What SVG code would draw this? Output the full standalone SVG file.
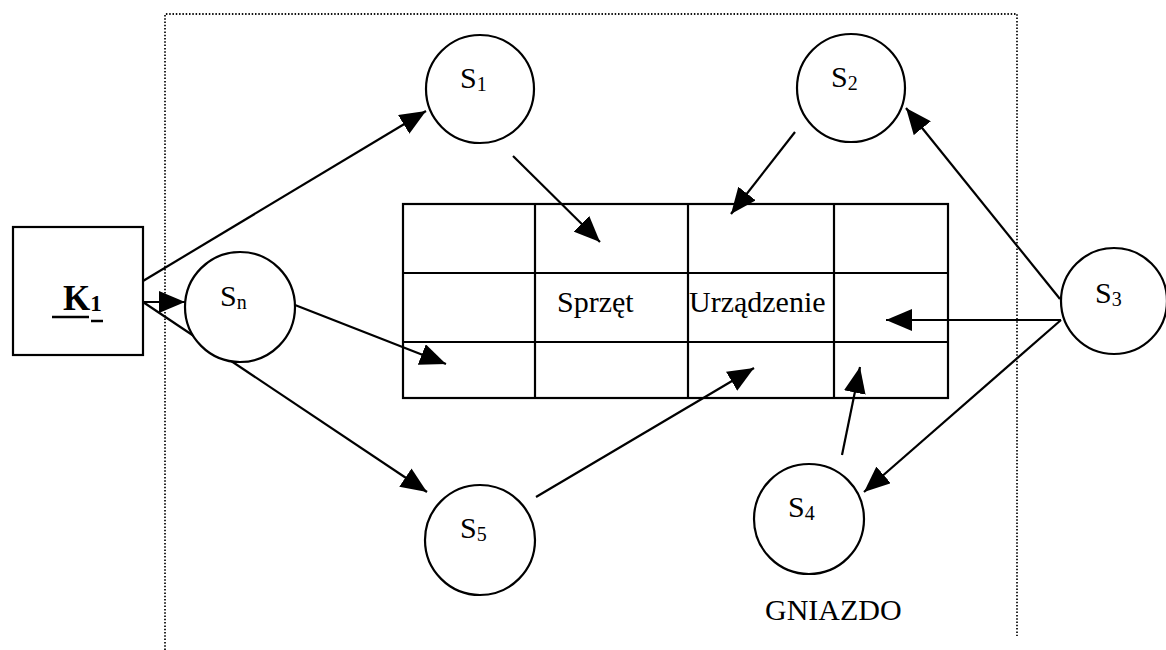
<svg xmlns="http://www.w3.org/2000/svg" width="1166" height="650" viewBox="0 0 1166 650">
  <style>
    .node { fill: #fff; stroke: #000; stroke-width: 2.2; }
    .grid { fill: none; stroke: #000; stroke-width: 2.2; }
    .edge { fill: none; stroke: #000; stroke-width: 2.2; marker-end: url(#arrow); }
    .plain { fill: none; stroke: #000; stroke-width: 2.5; }
    .dotted { fill: none; stroke: #111; stroke-width: 1.8; stroke-dasharray: 1.5 1.8; }
    .lbl { font-family: "Liberation Serif", "Times New Roman", serif; font-size: 30px; fill: #000; }
    .sub { font-size: 20px; }
    .key { font-weight: bold; font-size: 35px; }
    .keysub { font-size: 23px; }
  </style>
  <defs>
    <marker id="arrow" markerUnits="userSpaceOnUse" markerWidth="26" markerHeight="22" refX="26" refY="11" orient="auto">
      <path d="M0,0 L26,11 L0,22 z" fill="#000"/>
    </marker>
  </defs>

  <rect width="1166" height="650" fill="#fff"/>

  <!-- nest boundary -->
  <g id="boundary">
    <polyline class="dotted" points="165,650 165,14 1017,14 1017,636"/>
    <text class="lbl" x="765" y="620">GNIAZDO</text>
  </g>

  <!-- connectors -->
  <g id="connectors">
    <line class="edge" x1="143" y1="281" x2="426" y2="111"/>
    <line class="edge" x1="143" y1="302" x2="185" y2="302"/>
    <line class="edge" x1="143" y1="302" x2="427" y2="492"/>
    <line class="edge" x1="513" y1="156" x2="600" y2="242"/>
    <line class="edge" x1="795" y1="132" x2="731" y2="214"/>
    <line class="edge" x1="295" y1="305" x2="446" y2="364"/>
    <line class="edge" x1="536" y1="497" x2="754" y2="368"/>
    <line class="edge" x1="842" y1="455" x2="860" y2="367"/>
    <line class="edge" x1="1060" y1="299" x2="906" y2="108"/>
    <line class="edge" x1="1061" y1="320" x2="886" y2="320"/>
    <line class="edge" x1="1061" y1="320" x2="864" y2="492"/>
  </g>

  <!-- K1 -->
  <g id="K1">
    <rect class="node" x="13" y="227" width="130" height="128"/>
    <text class="lbl key" x="63" y="310">K<tspan class="keysub" dy="1">1</tspan></text>
    <line class="plain" x1="52" y1="317" x2="89" y2="317"/>
    <line class="plain" x1="91" y1="321" x2="103" y2="321"/>
  </g>

  <!-- equipment table -->
  <g id="table">
    <rect class="grid" x="403" y="204" width="545" height="194"/>
    <line class="grid" x1="403" y1="273" x2="948" y2="273"/>
    <line class="grid" x1="403" y1="342" x2="948" y2="342"/>
    <line class="grid" x1="535" y1="204" x2="535" y2="398"/>
    <line class="grid" x1="688" y1="204" x2="688" y2="398"/>
    <line class="grid" x1="834" y1="204" x2="834" y2="398"/>
    <text class="lbl" x="557" y="312">Sprzęt</text>
    <text class="lbl" x="689" y="312">Urządzenie</text>
  </g>

  <!-- stations -->
  <g id="S1">
    <circle class="node" cx="480" cy="89" r="54"/>
    <text class="lbl" x="460" y="88">S<tspan class="sub" dy="3">1</tspan></text>
  </g>
  <g id="S2">
    <circle class="node" cx="851" cy="88" r="54"/>
    <text class="lbl" x="831" y="87">S<tspan class="sub" dy="3">2</tspan></text>
  </g>
  <g id="S3">
    <circle class="node" cx="1114" cy="301" r="53"/>
    <text class="lbl" x="1095" y="303">S<tspan class="sub" dy="3">3</tspan></text>
  </g>
  <g id="S4">
    <circle class="node" cx="809" cy="519" r="55"/>
    <text class="lbl" x="788" y="517">S<tspan class="sub" dy="3">4</tspan></text>
  </g>
  <g id="S5">
    <circle class="node" cx="480" cy="540" r="55"/>
    <text class="lbl" x="460" y="538">S<tspan class="sub" dy="3">5</tspan></text>
  </g>
  <g id="Sn">
    <circle class="node" cx="240" cy="307" r="55"/>
    <text class="lbl" x="220" y="306">S<tspan class="sub" dy="3">n</tspan></text>
  </g>
</svg>
